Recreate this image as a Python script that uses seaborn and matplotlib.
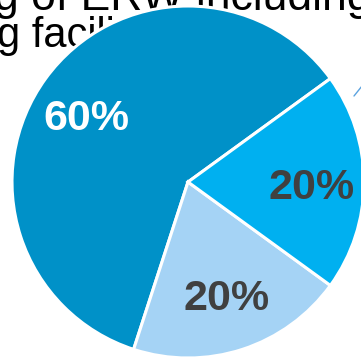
import matplotlib
matplotlib.use("Agg")
import matplotlib.pyplot as plt
import seaborn as sns

sns.set_theme(style="white")
plt.rcParams['font.family'] = ['Liberation Sans', 'DejaVu Sans']

shares = [60, 20, 20]
labels = ["60%", "20%", "20%"]
colors = ["#0091C8", "#A5D3F5", "#00B0F0"]
text_colors = ["white", "#404040", "#404040"]
bg_lines = ["g of ERW including", "g facility"]

W, H = 361, 357
fig = plt.figure(figsize=(W / 100, H / 100), dpi=100)
ax = fig.add_axes([0, 0, 1, 1])

# background text from slide (partially hidden behind the pie)
ax.text(-6, H - 10, bg_lines[0], fontsize=32, color="black", ha="left",
        va="baseline", zorder=0, clip_on=True)
ax.text(-3, H - 47, bg_lines[1], fontsize=30, color="black", ha="left",
        va="baseline", zorder=0, clip_on=True)

wedges, texts, autotexts = ax.pie(
    shares, colors=colors, startangle=36, counterclock=True,
    center=(188, 175), radius=176, frame=True,
    autopct=lambda p: f"{p:.0f}%", pctdistance=0.69,
    wedgeprops=dict(edgecolor="white", linewidth=2.2),
    textprops=dict(fontsize=31, fontweight="bold"))
for w in wedges:
    w.set_zorder(2)
nudges = [(-3, -8), (1, -2), (2, -6)]
for t, c, (dx, dy) in zip(autotexts, text_colors, nudges):
    t.set_color(c)
    t.set_zorder(3)
    x, y = t.get_position()
    t.set_position((x + dx, y + dy))
ax.set_xlim(0, W)
ax.set_ylim(0, H)
ax.axis("off")

# leader line fragment at right edge
ax.plot([354, 362], [H - 96, H - 86], color="#5BA3E0", lw=1.0, zorder=1, clip_on=False)

fig.savefig("out.png", dpi=100)
